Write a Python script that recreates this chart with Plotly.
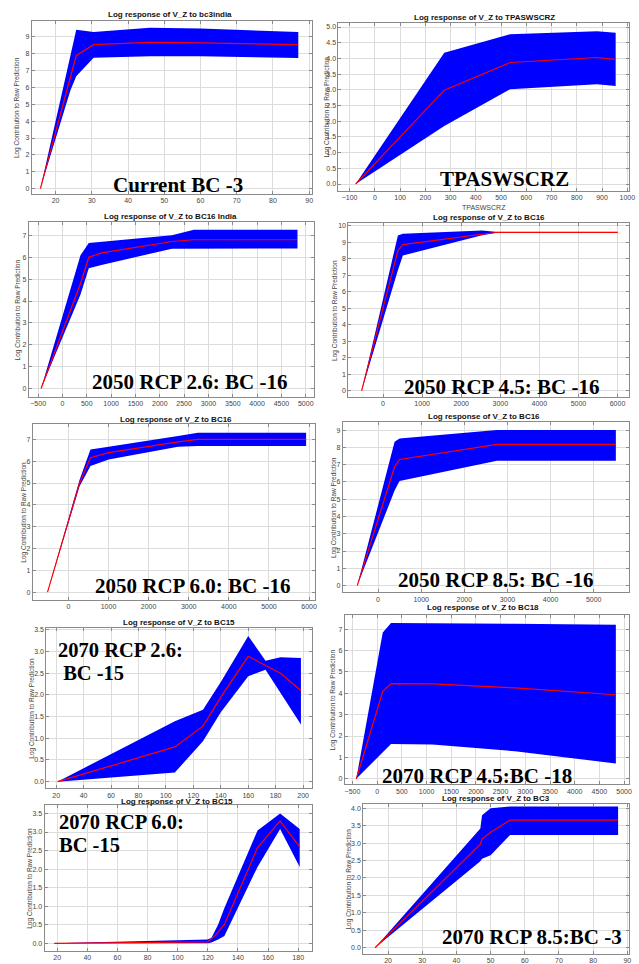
import plotly.graph_objects as go

W, H = 639, 964

# ---------------- data ----------------
p1_title = "Log response of V_Z to bc3india"
p1_x = [15.8, 24.1, 25.7, 30.5, 46, 60, 75, 87]
p1_upper = [0, 7.9, 9.43, 9.3, 9.55, 9.5, 9.4, 9.3]
p1_mean = [0, 6.62, 7.9, 8.54, 8.68, 8.65, 8.6, 8.54]
p1_lower = [0, 5.83, 6.66, 7.77, 7.85, 7.85, 7.8, 7.75]
p1_label = "Current BC -3"

p2_title = "Log response of V_Z to TPASWSCRZ"
p2_x = [-76, 275, 536, 880, 954]
p2_upper = [0, 4.18, 4.77, 4.87, 4.82]
p2_mean = [0, 2.99, 3.87, 4.03, 3.97]
p2_lower = [0, 1.85, 3.02, 3.18, 3.12]
p2_label = "TPASWSCRZ"
p2_xtitle = "TPASWSCRZ"

p3_title = "Log response of V_Z to BC16 India"
p3_x = [-440, 370, 540, 800, 2250, 2700, 4830]
p3_upper = [0, 6.09, 6.65, 6.7, 7.0, 7.26, 7.26]
p3_mean = [0, 4.8, 6.0, 6.2, 6.72, 6.8, 6.8]
p3_lower = [0, 4.3, 5.5, 5.65, 6.39, 6.4, 6.4]
p3_label = "2050 RCP 2.6: BC -16"

p4_title = "Log response of V_Z to BC16"
p4_x = [-549, 380, 507, 2535, 2873, 6000]
p4_upper = [0, 9.4, 9.5, 9.7, 9.62, 9.62]
p4_mean = [0, 8.49, 8.85, 9.5, 9.58, 9.58]
p4_lower = [0, 7.3, 8.19, 9.42, 9.55, 9.55]
p4_label = "2050 RCP 4.5: BC -16"

p5_title = "Log response of V_Z to BC16"
p5_x = [-519, 280, 551, 1004, 2733, 3226, 5926]
p5_upper = [0, 5.15, 6.54, 6.66, 7.16, 7.3, 7.3]
p5_mean = [0, 5.0, 6.16, 6.39, 6.89, 7.0, 7.0]
p5_lower = [0, 4.85, 5.78, 6.08, 6.66, 6.7, 6.7]
p5_label = "2050 RCP 6.0: BC -16"

p6_title = "Log response of V_Z to BC16"
p6_x = [-482, 383, 498, 2757, 5513]
p6_upper = [0, 8.32, 8.52, 9.0, 9.0]
p6_mean = [0, 6.88, 7.3, 8.17, 8.17]
p6_lower = [0, 5.5, 6.05, 7.23, 7.23]
p6_label = "2050 RCP 8.5: BC -16"

p7_title = "Log response of V_Z to BC15"
p7_x = [21, 106.5, 127, 140, 160, 172.6, 183.5, 198.4]
p7_upper = [0, 1.39, 1.66, 2.3, 3.36, 2.79, 2.87, 2.85]
p7_mean = [0, 0.8, 1.28, 1.95, 2.89, 2.68, 2.5, 2.1]
p7_lower = [0, 0.21, 0.93, 1.6, 2.43, 2.58, 2.05, 1.32]
p7_label = ["2070 RCP 2.6:", " BC -15"]

p8_title = "Log response of V_Z to BC18"
p8_x = [-422, 114, 281, 1118, 2791, 4833]
p8_upper = [0, 6.84, 7.28, 7.28, 7.25, 7.2]
p8_mean = [0, 4.09, 4.45, 4.44, 4.25, 3.93]
p8_lower = [0, 1.25, 1.63, 1.6, 1.29, 0.72]
p8_label = "2070 RCP 4.5:BC -18"

p9_title = "Log response of V_Z to BC15"
p9_x = [18, 70, 120, 122.4, 126.8, 131, 153, 168, 181]
p9_upper = [0, 0.06, 0.1, 0.15, 0.5, 0.95, 3.04, 3.5, 3.08]
p9_mean = [0, 0.02, 0.04, 0.12, 0.3, 0.51, 2.58, 3.3, 2.6]
p9_lower = [0, 0.0, 0.0, 0.02, 0.1, 0.2, 2.06, 3.08, 2.06]
p9_label = ["2070 RCP 6.0:", "BC -15"]

p10_title = "Log response of V_Z to BC3"
p10_x = [16.2, 47, 47.5, 50, 55.7, 87.3]
p10_upper = [0, 3.42, 3.8, 4.0, 4.05, 4.05]
p10_mean = [0, 2.97, 3.12, 3.31, 3.66, 3.66]
p10_lower = [0, 2.48, 2.55, 2.65, 3.23, 3.23]
p10_label = "2070 RCP 8.5:BC -3"

y_title = "Log Contribution to Raw Prediction"

# ---------------- layout geometry (pixels) ----------------
panels = [
    dict(x=p1_x, up=p1_upper, mu=p1_mean, lo=p1_lower, title=p1_title,
         px=(32, 315), py=(20, 193), xr=(13.4, 90.8), yr=(-0.3, 9.95), xd=10, yd=1, yf="",
         tpos=(172, 14), ytx=17, lab=p1_label, lpos=(180, 184)),
    dict(x=p2_x, up=p2_upper, mu=p2_mean, lo=p2_lower, title=p2_title,
         px=(341.7, 635), py=(21.7, 190), xr=(-144, 1007), yr=(-0.21, 5.14), xd=100, yd=0.5, yf=".1f",
         tpos=(489, 16.7), ytx=330, lab=p2_label, lpos=(509, 178)),
    dict(x=p3_x, up=p3_upper, mu=p3_mean, lo=p3_lower, title=p3_title,
         px=(29, 317), py=(221.7, 396.7), xr=(-694, 5170), yr=(-0.38, 7.6), xd=500, yd=1, yf="",
         tpos=(172, 216), ytx=18, lab=p3_label, lpos=(191, 382)),
    dict(x=p4_x, up=p4_upper, mu=p4_mean, lo=p4_lower, title=p4_title,
         px=(351.7, 635), py=(222.7, 396.7), xr=(-887, 6296), yr=(-0.36, 10.14), xd=1000, yd=1, yf="",
         tpos=(494, 216.7), ytx=338, lab=p4_label, lpos=(506, 387)),
    dict(x=p5_x, up=p5_upper, mu=p5_mean, lo=p5_lower, title=p5_title,
         px=(33, 318), py=(424, 600), xr=(-889, 6148), yr=(-0.35, 7.7), xd=1000, yd=1, yf="",
         tpos=(177.5, 419), ytx=24, lab=p5_label, lpos=(194, 586)),
    dict(x=p6_x, up=p6_upper, mu=p6_mean, lo=p6_lower, title=p6_title,
         px=(346, 635), py=(421.7, 592.7), xr=(-819, 5819), yr=(-0.4, 9.48), xd=1000, yd=1, yf="",
         tpos=(489, 416), ytx=337, lab=p6_label, lpos=(500, 580)),
    dict(x=p7_x, up=p7_upper, mu=p7_mean, lo=p7_lower, title=p7_title,
         px=(46.7, 315), py=(628, 789), xr=(12.8, 206.5), yr=(-0.155, 3.55), xd=20, yd=0.5, yf=".1f",
         tpos=(181, 623), ytx=32, lab=p7_label, lpos=(58, 650, 673)),
    dict(x=p8_x, up=p8_upper, mu=p8_mean, lo=p8_lower, title=p8_title,
         px=(348, 635), py=(615, 785), xr=(-656, 5100), yr=(-0.26, 7.67), xd=500, yd=1, yf="",
         tpos=(488, 608), ytx=336, lab=p8_label, lpos=(482, 777)),
    dict(x=p9_x, up=p9_upper, mu=p9_mean, lo=p9_lower, title=p9_title,
         px=(45, 315), py=(806, 951.7), xr=(11.6, 189.2), yr=(-0.2, 3.72), xd=20, yd=0.5, yf=".1f",
         tpos=(179, 801.7), ytx=30, lab=p9_label, lpos=(59, 823, 846)),
    dict(x=p10_x, up=p10_upper, mu=p10_mean, lo=p10_lower, title=p10_title,
         px=(366.7, 635), py=(804.3, 955), xr=(12.75, 90.5), yr=(-0.18, 4.13), xd=10, yd=0.5, yf=".1f",
         tpos=(501, 799.3), ytx=352, lab=p10_label, lpos=(537, 938)),
]

fig = go.Figure()
annotations = []
layout_axes = {}

SERIF = dict(family="Liberation Serif", size=21, color="black", weight="bold")
SERIF2 = dict(family="Liberation Serif", size=20.5, color="black", weight="bold")

for i, p in enumerate(panels, start=1):
    xs = "x" if i == 1 else f"x{i}"
    ys = "y" if i == 1 else f"y{i}"
    band_x = list(p["x"]) + list(reversed(p["x"]))
    band_y = list(p["up"]) + list(reversed(p["lo"]))
    fig.add_trace(go.Scatter(x=band_x, y=band_y, fill="toself", fillcolor="#0000FF",
                             line=dict(width=0, color="#0000FF"), mode="lines",
                             xaxis=xs, yaxis=ys, showlegend=False, hoverinfo="skip"))
    fig.add_trace(go.Scatter(x=p["x"], y=p["mu"], mode="lines",
                             line=dict(color="#FF0000", width=1.2),
                             xaxis=xs, yaxis=ys, showlegend=False))

    xd = [p["px"][0] / W, p["px"][1] / W]
    yd = [1 - p["py"][1] / H, 1 - p["py"][0] / H]
    common = dict(showline=True, linecolor="#8a8a8a", linewidth=1, mirror="ticks",
                  showgrid=True, gridcolor="#dcdcdc", gridwidth=1, zeroline=False,
                  ticks="inside", ticklen=3, tickcolor="#8a8a8a",
                  tickfont=dict(family="Liberation Sans", size=7, color="#444"))
    layout_axes["xaxis" if i == 1 else f"xaxis{i}"] = dict(
        domain=xd, range=list(p["xr"]), dtick=p["xd"], tick0=0,
        anchor=ys, **common)
    layout_axes["yaxis" if i == 1 else f"yaxis{i}"] = dict(
        domain=yd, range=list(p["yr"]), dtick=p["yd"], tick0=0, tickformat=p["yf"],
        anchor=xs, **common)

    # panel title
    annotations.append(dict(text=p["title"], x=p["tpos"][0] / W, y=1 - p["tpos"][1] / H,
                            xref="paper", yref="paper", showarrow=False,
                            xanchor="center", yanchor="middle",
                            font=dict(family="Liberation Sans", size=8, color="#111", weight="bold")))
    # y axis title
    annotations.append(dict(text=y_title, x=p["ytx"] / W,
                            y=1 - (p["py"][0] + p["py"][1]) / 2 / H,
                            xref="paper", yref="paper", showarrow=False, textangle=-90,
                            xanchor="center", yanchor="middle",
                            font=dict(family="Liberation Sans", size=6.5, color="#444")))
    # serif overlay label
    lab = p["lab"]
    if isinstance(lab, list):
        for k, line in enumerate(lab):
            annotations.append(dict(text=line.replace(" ", "&nbsp;", 1) if line.startswith(" ") else line,
                                    x=p["lpos"][0] / W, y=1 - p["lpos"][1 + k] / H,
                                    xref="paper", yref="paper", showarrow=False,
                                    xanchor="left", yanchor="middle", font=SERIF2, borderpad=0))
    else:
        annotations.append(dict(text=lab, x=p["lpos"][0] / W, y=1 - p["lpos"][1] / H,
                                xref="paper", yref="paper", showarrow=False,
                                xanchor="center", yanchor="middle", font=SERIF))

# x-axis title of the TPASWSCRZ panel
annotations.append(dict(text=p2_xtitle, x=(341.7 + 635) / 2 / W, y=1 - 207 / H,
                        xref="paper", yref="paper", showarrow=False,
                        xanchor="center", yanchor="middle",
                        font=dict(family="Liberation Sans", size=7, color="#444")))

fig.update_layout(width=W, height=H, margin=dict(l=0, r=0, t=0, b=0),
                  paper_bgcolor="white", plot_bgcolor="white",
                  annotations=annotations, **layout_axes)

fig.write_html("out.html", config={"displayModeBar": False},
               post_script="document.body.style.margin='0';document.body.style.overflow='hidden';")
